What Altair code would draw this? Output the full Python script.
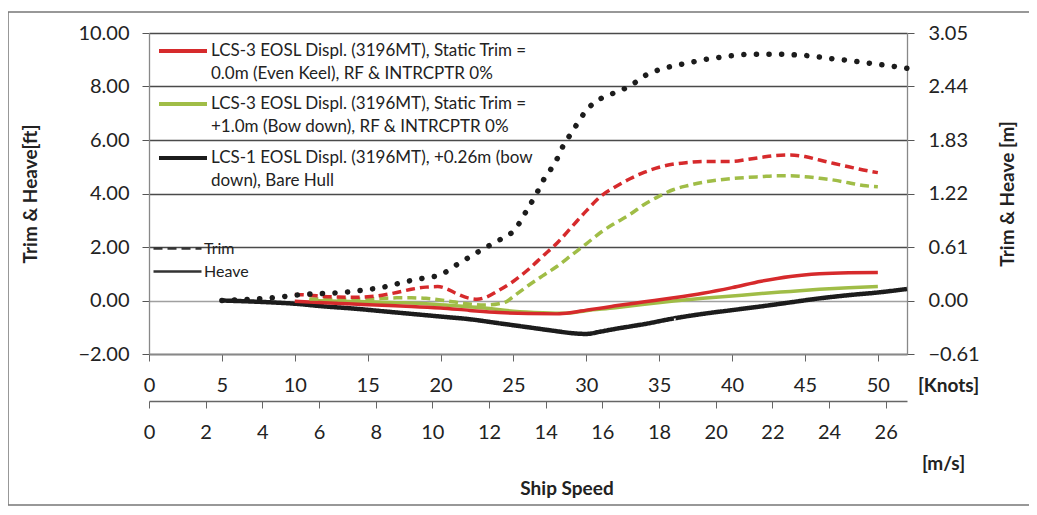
import altair as alt
import pandas as pd

# ---------------- data ----------------
S1 = "LCS-3 EOSL Displ. (3196MT), Static Trim =|0.0m (Even Keel), RF & INTRCPTR 0%"
S2 = "LCS-3 EOSL Displ. (3196MT), Static Trim =|+1.0m (Bow down), RF & INTRCPTR 0%"
S3 = "LCS-1 EOSL Displ. (3196MT), +0.26m (bow|down), Bare Hull"
RED, GREEN, BLACK = "#d62a2c", "#a0bd47", "#1c1c1c"

KNOT_TICKS = [0, 5, 10, 15, 20, 25, 30, 35, 40, 45, 50]
MS_TICKS = [0, 2, 4, 6, 8, 10, 12, 14, 16, 18, 20, 22, 24, 26]
FT_TICKS = [-2, 0, 2, 4, 6, 8, 10]

# LCS-3 even keel
red_trim_kn = [10, 11, 12, 13, 14, 15, 16, 17, 18, 19, 19.8, 20.5, 21, 22, 22.5, 23, 24, 25, 26, 27,
               28, 29, 30, 31, 32, 33, 34, 35, 36, 37, 38, 39, 40, 41, 42, 43, 44, 45, 46, 47, 48, 49, 50]
red_trim_ft = [0.22, 0.2, 0.15, 0.13, 0.12, 0.14, 0.2, 0.3, 0.42, 0.5, 0.52, 0.42, 0.28, 0.08, 0.05, 0.1,
               0.38, 0.72, 1.15, 1.65, 2.15, 2.75, 3.35, 3.9, 4.25, 4.55, 4.8, 4.98, 5.1, 5.16, 5.2, 5.2,
               5.2, 5.27, 5.35, 5.42, 5.44, 5.38, 5.25, 5.12, 5.0, 4.88, 4.78]
red_heave_kn = [10, 12, 14, 16, 18, 20, 22, 24, 26, 28, 29, 30, 32, 34, 36, 38, 40, 42, 44, 46, 48, 50]
red_heave_ft = [-0.03, -0.08, -0.13, -0.18, -0.22, -0.28, -0.37, -0.45, -0.49, -0.5, -0.45, -0.36,
                -0.2, -0.05, 0.1, 0.27, 0.48, 0.72, 0.9, 1.0, 1.04, 1.05]

# LCS-3 +1.0m bow down
grn_trim_kn = [11, 12, 13, 14, 15, 16, 17, 18, 19, 20, 21, 22, 23, 24, 24.5, 25, 26, 27, 28, 29, 30,
               31, 32, 33, 34, 35, 36, 37, 38, 39, 40, 41, 42, 43, 44, 45, 46, 47, 48, 49, 50]
grn_trim_ft = [0.06, 0.05, 0.04, 0.05, 0.06, 0.08, 0.1, 0.1, 0.08, 0.02, -0.06, -0.13, -0.17, -0.12,
               -0.05, 0.15, 0.55, 0.92, 1.28, 1.7, 2.12, 2.55, 2.9, 3.22, 3.6, 3.9, 4.15, 4.3, 4.42,
               4.5, 4.56, 4.6, 4.63, 4.66, 4.66, 4.63, 4.57, 4.5, 4.4, 4.3, 4.25]
grn_heave_kn = [11, 13, 15, 17, 19, 21, 23, 25, 27, 28.5, 30, 32, 34, 36, 38, 40, 42, 44, 46, 48, 50]
grn_heave_ft = [0.0, -0.03, -0.05, -0.08, -0.12, -0.2, -0.28, -0.4, -0.46, -0.48, -0.38, -0.27,
                -0.14, -0.02, 0.08, 0.17, 0.26, 0.34, 0.42, 0.48, 0.52]

# LCS-1 bare hull
blk_trim_kn = [5, 6, 7, 8, 9, 10, 11, 12, 13, 14, 15, 16, 17, 18, 19, 20, 21, 22, 23, 24, 25, 25.5,
               26, 26.5, 27, 27.5, 28, 28.5, 29, 29.5, 30, 30.5, 31, 32, 33, 34, 35, 36, 37, 38, 39,
               40, 41, 42, 43, 44, 45, 46, 47, 48, 49, 50, 51, 52]
blk_trim_ft = [0.0, 0.02, 0.05, 0.08, 0.13, 0.2, 0.24, 0.26, 0.29, 0.34, 0.41, 0.49, 0.62, 0.75, 0.85,
               0.96, 1.3, 1.63, 1.95, 2.25, 2.6, 2.97, 3.46, 3.9, 4.45, 4.85, 5.3, 5.88, 6.27, 6.72,
               7.1, 7.38, 7.55, 7.78, 8.02, 8.4, 8.63, 8.77, 8.88, 9.0, 9.08, 9.15, 9.2, 9.21, 9.21,
               9.19, 9.16, 9.1, 9.03, 8.97, 8.9, 8.83, 8.76, 8.68]
blk_heave_kn = [5, 8, 10, 12, 14, 16, 18, 20, 22, 24, 26, 28, 29, 30, 31, 32, 33, 34, 36, 38, 40, 42,
                44, 46, 48, 50, 52]
blk_heave_ft = [0.0, -0.06, -0.12, -0.22, -0.3, -0.4, -0.5, -0.6, -0.7, -0.85, -1.0, -1.15, -1.22,
                -1.25, -1.16, -1.06, -0.97, -0.88, -0.67, -0.5, -0.36, -0.22, -0.07, 0.08, 0.2, 0.3, 0.43]


def frame_of(kn, ft, series, kind):
    d = pd.DataFrame({"knots": kn, "ft": ft})
    d["series"] = series
    d["kind"] = kind
    d["ms"] = d["knots"] * 0.514444
    return d


red_trim = frame_of(red_trim_kn, red_trim_ft, S1, "Trim")
red_heave = frame_of(red_heave_kn, red_heave_ft, S1, "Heave")
grn_trim = frame_of(grn_trim_kn, grn_trim_ft, S2, "Trim")
grn_heave = frame_of(grn_heave_kn, grn_heave_ft, S2, "Heave")
blk_trim = frame_of(blk_trim_kn, blk_trim_ft, S3, "Trim")
blk_heave = frame_of(blk_heave_kn, blk_heave_ft, S3, "Heave")

KN_MAX = 52
FONT = "Lato"
W, H = 758, 321
DASH = [9, 5]

x_kn = alt.X(
    "knots:Q",
    scale=alt.Scale(domain=[0, KN_MAX], nice=False, zero=False),
    axis=alt.Axis(
        values=KNOT_TICKS, format="d", grid=False,
        labelFontSize=20, labelColor="#222", labelPadding=14, labelFlush=False,
        tickSize=7, tickColor="#666", domainColor="#888", domainWidth=1.3,
        title="[Knots]", titleX=799, titleY=31, titleAngle=0, titleAlign="center",
        titleBaseline="middle", titleFontSize=19, titleFontWeight="bold", titleColor="#222",
    ),
)
y_ft = alt.Y(
    "ft:Q",
    scale=alt.Scale(domain=[-2, 10], nice=False),
    axis=alt.Axis(
        values=FT_TICKS, format=".2f", grid=True,
        gridColor=alt.condition("datum.value == 0", alt.value("#a0a0a0"), alt.value("#4a4a4a")),
        gridWidth=1.4,
        labelFontSize=20, labelColor="#222", labelPadding=13,
        tickSize=7, tickColor="#555", domainColor="#888", domainWidth=1.3,
        title="Trim & Heave[ft]", titleX=-119, titleBaseline="middle",
        titleFontSize=19, titleFontWeight="bold", titleColor="#222",
    ),
)


def series_color(name, col, ly):
    return alt.Color(
        "series:N",
        scale=alt.Scale(domain=[name], range=[col]),
        legend=alt.Legend(
            orient="none", legendX=8, legendY=ly, title=None, padding=0,
            symbolType="stroke", symbolSize=2304, symbolStrokeWidth=4,
            labelExpr="split(datum.label, '|')", labelLimit=600, labelFontSize=17,
            labelColor="#222", labelOffset=2,
        ),
    )


def kind_dash(name, dash, ly):
    return alt.StrokeDash(
        "kind:N",
        scale=alt.Scale(domain=[name], range=[dash]),
        legend=alt.Legend(
            orient="none", legendX=3, legendY=ly, title=None, padding=0,
            symbolType="stroke", symbolSize=2304, symbolStrokeWidth=2.5,
            symbolStrokeColor="#333", labelFontSize=16, labelColor="#222", labelOffset=1,
        ),
    )


L_red_trim = alt.Chart(red_trim).mark_line(
    interpolate="monotone", color=RED, strokeWidth=3.5
).encode(x=x_kn, y=y_ft, strokeDash=kind_dash("Trim", DASH, 190))

L_red_heave = alt.Chart(red_heave).mark_line(
    interpolate="monotone", strokeWidth=3.5
).encode(x=x_kn, y=y_ft, color=series_color(S1, RED, -8))

L_grn_trim = alt.Chart(grn_trim).mark_line(
    interpolate="monotone", color=GREEN, strokeWidth=3.5, strokeDash=DASH
).encode(x=x_kn, y=y_ft)

L_grn_heave = alt.Chart(grn_heave).mark_line(
    interpolate="monotone", strokeWidth=3.5
).encode(x=x_kn, y=y_ft, color=series_color(S2, GREEN, 45))

L_blk_heave = alt.Chart(blk_heave).mark_line(
    interpolate="monotone", strokeWidth=4.5
).encode(x=x_kn, y=y_ft, color=series_color(S3, BLACK, 99),
         strokeDash=kind_dash("Heave", [1, 0], 213))

L_blk_trim = alt.Chart(blk_trim).mark_line(
    interpolate="monotone", color=BLACK, strokeDash=[0.1, 12.5], strokeCap="round", strokeWidth=5.5
).encode(x=x_kn, y=y_ft)

inner = alt.layer(
    L_blk_heave, L_grn_heave, L_red_heave, L_grn_trim, L_red_trim, L_blk_trim
).resolve_scale(color="independent", strokeDash="independent")

axes2 = (
    alt.Chart(blk_trim)
    .mark_line(opacity=0)
    .encode(
        x=alt.X(
            "ms:Q",
            scale=alt.Scale(domain=[0, KN_MAX * 0.514444], nice=False, zero=False),
            axis=alt.Axis(
                orient="bottom", offset=47, values=MS_TICKS, format="d", grid=False,
                labelFontSize=20, labelColor="#222", labelPadding=14, labelFlush=False,
                tickSize=7, tickColor="#666", domainColor="#666", domainWidth=1.3,
                title="[m/s]", titleX=794, titleY=62, titleAngle=0, titleAlign="center",
                titleBaseline="middle", titleFontSize=19, titleFontWeight="bold", titleColor="#222",
            ),
        ),
        y=alt.Y(
            "ft:Q",
            scale=alt.Scale(domain=[-2, 10], nice=False),
            axis=alt.Axis(
                orient="right", values=FT_TICKS, grid=False,
                labelExpr="format(datum.value * 0.3048, '.2f')",
                labelFontSize=20, labelColor="#222", labelPadding=14,
                tickSize=7, tickColor="#555", domainColor="#888", domainWidth=1.3,
                title="Trim & Heave [m]", titleX=100, titleAngle=270, titleBaseline="middle",
                titleFontSize=19, titleFontWeight="bold", titleColor="#222",
            ),
        ),
    )
)

frame = alt.Chart(alt.Data(values=[{}])).mark_rect(
    fill="transparent", stroke="#777", strokeWidth=1.5
).encode(x=alt.value(-141), x2=alt.value(930), y=alt.value(-21), y2=alt.value(472))

title_txt = alt.Chart(alt.Data(values=[{}])).mark_text(
    fontSize=19, fontWeight="bold", font=FONT, color="#222"
).encode(x=alt.value(418), y=alt.value(456), text=alt.value("Ship Speed"))

chart = (
    alt.layer(inner, axes2, frame, title_txt)
    .resolve_scale(x="independent", y="independent")
    .properties(
        width=W, height=H,
        autosize=alt.AutoSizeParams(type="none"),
        padding={"left": 141, "top": 25, "right": 122, "bottom": 153},
    )
    .configure(style={"guide-label": {"lineHeight": 23}})
    .configure_axis(labelFont=FONT, titleFont=FONT)
    .configure_legend(labelFont=FONT)
    .configure_view(strokeWidth=0)
)

chart.save("out.html", embed_options={"renderer": "svg", "actions": False})
